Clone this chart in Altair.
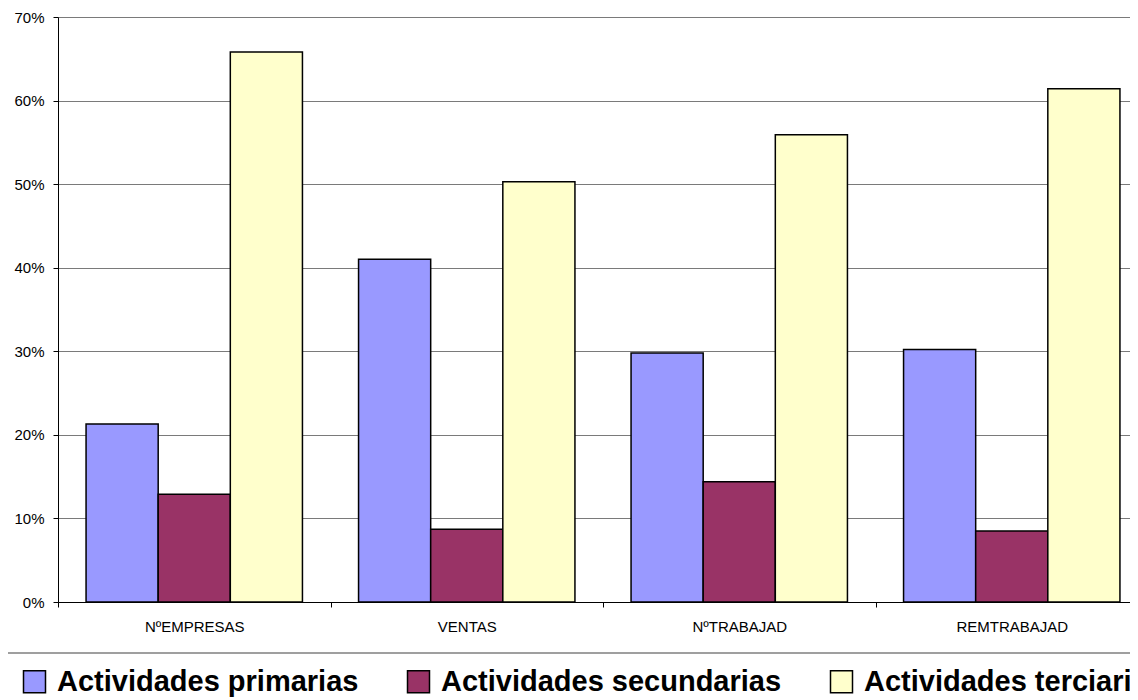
import altair as alt
import pandas as pd

categories = ["NºEMPRESAS", "VENTAS", "NºTRABAJAD", "REMTRABAJAD"]
series = ["Actividades primarias", "Actividades secundarias", "Actividades terciarias"]
primarias = [21.3, 41.0, 29.8, 30.2]
secundarias = [12.9, 8.7, 14.4, 8.5]
terciarias = [65.8, 50.3, 55.9, 61.4]
colors = ["#9999FF", "#993366", "#FFFFCC"]
y_ticks = [0, 10, 20, 30, 40, 50, 60, 70]

rows = []
for s, vals in zip(series, [primarias, secundarias, terciarias]):
    for c, v in zip(categories, vals):
        rows.append({"cat": c, "serie": s, "valor": v})
df = pd.DataFrame(rows)

FONT = "Liberation Sans"

bars = alt.Chart(df).mark_bar(stroke="black", strokeWidth=1.5, opacity=1).encode(
    x=alt.X(
        "cat:N",
        sort=categories,
        scale=alt.Scale(range=[0, 1090], paddingInner=0, paddingOuter=0),
        axis=alt.Axis(
            title=None, labelAngle=0, tickBand="extent", ticks=True, tickSize=5,
            tickColor="black", domainColor="black", labelFontSize=15,
            labelPadding=12, labelColor="black", grid=False, labelFont=FONT,
        ),
    ),
    xOffset=alt.XOffset("serie:N", sort=series,
                        scale=alt.Scale(paddingInner=0, paddingOuter=0.389)),
    y=alt.Y(
        "valor:Q",
        scale=alt.Scale(domain=[0, 70], nice=False),
        axis=alt.Axis(
            values=y_ticks, labelExpr="datum.value + '%'", title=None,
            tickSize=5, tickColor="black", domainColor="black",
            labelFontSize=15, labelPadding=9, labelColor="black", labelFont=FONT,
            grid=True, gridColor="#7a7a7a", gridWidth=1,
        ),
    ),
    color=alt.Color(
        "serie:N",
        sort=series,
        scale=alt.Scale(domain=series, range=colors),
        legend=alt.Legend(
            title=None, orient="none", legendX=-38, legendY=650,
            direction="horizontal", symbolType="square", symbolSize=484,
            symbolStrokeColor="black", symbolStrokeWidth=1.5, symbolOpacity=1,
            labelFontSize=29, labelFontWeight="bold", labelFont=FONT,
            labelColor="black", labelOffset=8, columnPadding=45,
            labelLimit=0, padding=0,
        ),
    ),
)

line_df = pd.DataFrame({"k": [0]})
border = alt.Chart(line_df).mark_rule(color="#404040", strokeWidth=1.2).encode(
    x=alt.value(-60), x2=alt.value(1090), y=alt.value(636)
)

chart = alt.layer(bars, border).properties(
    width=1072,
    height=585,
    autosize=alt.AutoSizeParams(type="none"),
    padding={"left": 50, "top": 9, "right": 0, "bottom": 98},
).configure_view(strokeWidth=0)

chart.save("out.html", embed_options={"renderer": "svg", "actions": False})
